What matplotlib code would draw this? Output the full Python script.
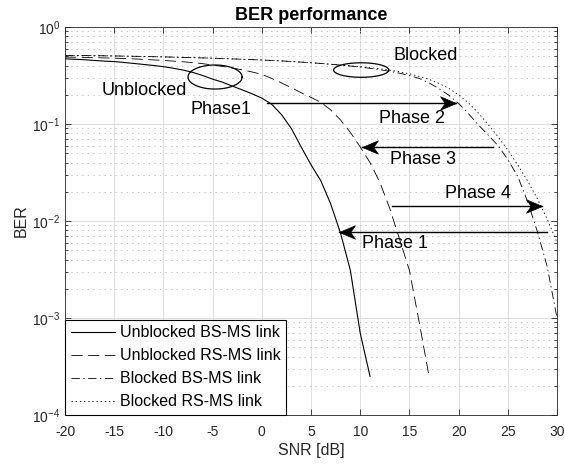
import numpy as np
import matplotlib.pyplot as plt
from matplotlib.path import Path

plt.rcParams['font.family'] = ['Liberation Sans', 'DejaVu Sans']
plt.rcParams['mathtext.fontset'] = 'custom'
plt.rcParams['mathtext.rm'] = 'Liberation Sans'
plt.rcParams['mathtext.it'] = 'Liberation Sans:italic'
plt.rcParams['mathtext.bf'] = 'Liberation Sans:bold'
plt.rcParams['lines.scale_dashes'] = False

# SNR grids (dB)
snr_ub_bs = np.arange(-20, 12)
snr_ub_rs = np.arange(-20, 18)
snr_blk = np.arange(-20, 31)

# BER values
ber_ub_bs = [0.470, 0.465, 0.460, 0.452, 0.445, 0.440, 0.431, 0.421, 0.411, 0.401,
             0.390, 0.376, 0.360, 0.340, 0.316, 0.290, 0.270, 0.246, 0.225, 0.205,
             0.185, 0.160, 0.125, 0.090, 0.058, 0.038, 0.026, 0.015, 0.0075, 0.0031,
             0.0007, 0.00025]
ber_ub_rs = [0.490, 0.488, 0.486, 0.483, 0.480, 0.477, 0.473, 0.469, 0.464, 0.458,
             0.452, 0.445, 0.438, 0.429, 0.419, 0.405, 0.392, 0.378, 0.362, 0.344,
             0.325, 0.295, 0.265, 0.237, 0.210, 0.188, 0.167, 0.140, 0.110, 0.082,
             0.058, 0.040, 0.025, 0.0135, 0.0065, 0.0031, 0.0009, 0.00025]
ber_blk_bs = [0.510, 0.509, 0.508, 0.506, 0.505, 0.503, 0.501, 0.499, 0.497, 0.494,
              0.492, 0.489, 0.486, 0.483, 0.480, 0.477, 0.473, 0.469, 0.465, 0.461,
              0.457, 0.452, 0.447, 0.441, 0.435, 0.428, 0.421, 0.413, 0.405, 0.396,
              0.386, 0.375, 0.363, 0.349, 0.334, 0.316, 0.295, 0.265, 0.232, 0.198,
              0.163, 0.128, 0.098, 0.077, 0.060, 0.043, 0.029, 0.016, 0.0078, 0.0034,
              0.0010]
ber_blk_rs = [0.510, 0.509, 0.508, 0.506, 0.505, 0.503, 0.501, 0.499, 0.497, 0.494,
              0.492, 0.489, 0.486, 0.483, 0.480, 0.477, 0.473, 0.469, 0.465, 0.461,
              0.457, 0.452, 0.447, 0.441, 0.435, 0.428, 0.421, 0.413, 0.405, 0.398,
              0.390, 0.381, 0.371, 0.359, 0.345, 0.329, 0.310, 0.288, 0.262, 0.233,
              0.200, 0.165, 0.130, 0.099, 0.074, 0.054, 0.038, 0.026, 0.017, 0.0105,
              0.0060]

labels = ['Unblocked BS-MS link', 'Unblocked RS-MS link',
          'Blocked BS-MS link', 'Blocked RS-MS link']

dark = '#262626'

fig = plt.figure(figsize=(5.65, 4.66), dpi=100)
ax = fig.add_axes([65 / 565, 1 - 415 / 466, 492 / 565, 388 / 466])

ax.semilogy(snr_ub_bs, ber_ub_bs, '-', color='k', lw=0.8, label=labels[0])
ax.semilogy(snr_ub_rs, ber_ub_rs, color='k', lw=0.6, dashes=(8, 4), label=labels[1])
ax.semilogy(snr_blk, ber_blk_bs, color='k', lw=0.6, dashes=(6, 2.5, 1, 2.5), label=labels[2])
ax.semilogy(snr_blk, ber_blk_rs, color='k', lw=0.6, dashes=(1, 2), label=labels[3])

ax.set_xlim(-20, 30)
ax.set_ylim(1e-4, 1)
ax.set_xticks(range(-20, 31, 5))
ax.set_xticklabels([str(v) for v in range(-20, 31, 5)])
ax.set_yticks([1e-4, 1e-3, 1e-2, 1e-1, 1])
ax.set_yticklabels([r'$10^{-4}$', r'$10^{-3}$', r'$10^{-2}$', r'$10^{-1}$', r'$10^{0}$'])

ax.grid(True, which='major', color='#dedede', lw=0.8)
ax.grid(True, which='minor', axis='y', color='#bdbdbd', lw=0.6, linestyle=(0, (1, 3)))
ax.set_axisbelow(True)

ax.tick_params(which='both', direction='in', top=True, right=True, colors=dark,
               labelsize=10, width=0.6)
ax.tick_params(which='major', length=4)
ax.tick_params(axis='x', which='major', pad=7)
ax.tick_params(which='minor', length=2)
for s in ax.spines.values():
    s.set_color(dark)
    s.set_linewidth(0.6)

ax.set_title('BER performance', fontsize=13, fontweight='bold', pad=5)
ax.set_xlabel('SNR [dB]', fontsize=11.5, color=dark, labelpad=3)
ax.set_ylabel('BER', fontsize=11.5, color=dark, labelpad=2)


def ellipse(cx, cy, a, b):
    t = np.linspace(0, 2 * np.pi, 200)
    ax.plot(cx + a * np.cos(t), cy * 10 ** (b * np.sin(t)), color='k', lw=0.9)


ellipse(-4.75, 0.305, 2.75, 0.124)
ellipse(10.1, 0.36, 2.8, 0.075)

txt = dict(fontsize=13, ha='center', va='center', color='k')
ax.text(-11.9, 0.224, 'Unblocked', **txt)
ax.text(-4.1, 0.14, 'Phase1', **txt)
ax.text(16.7, 0.51, 'Blocked', **txt)
ax.text(15.3, 0.115, 'Phase 2', **txt)
ax.text(16.4, 0.0435, 'Phase 3', **txt)
ax.text(22.0, 0.0194, 'Phase 4', **txt)
ax.text(13.5, 0.0059, 'Phase 1', **txt)

# swept-back arrow head (tip at the origin)
head_r = Path([(0, 0), (-1, 0.42), (-0.7, 0), (-1, -0.42), (0, 0)],
              [Path.MOVETO, Path.LINETO, Path.LINETO, Path.LINETO, Path.CLOSEPOLY])
head_l = Path([(0, 0), (1, 0.42), (0.7, 0), (1, -0.42), (0, 0)],
              [Path.MOVETO, Path.LINETO, Path.LINETO, Path.LINETO, Path.CLOSEPOLY])


def arrow(x0, x1, y):
    ax.plot([x0, x1], [y, y], color='k', lw=1.0)
    ax.plot([x1], [y], marker=head_r if x1 > x0 else head_l, ms=23,
            color='k', mec='k', mew=0.5, ls='none')


arrow(0.5, 19.7, 0.166)
arrow(23.5, 10.2, 0.058)
arrow(13.2, 28.5, 0.0142)
arrow(29.0, 7.8, 0.0077)

leg = ax.legend(loc='lower left', fontsize=11.5, borderaxespad=0, fancybox=False,
                edgecolor='k', framealpha=1, handlelength=2.8, handletextpad=0.3,
                labelspacing=0.5, borderpad=0.35)
leg.get_frame().set_linewidth(0.8)

fig.savefig('out.png', dpi=100)
